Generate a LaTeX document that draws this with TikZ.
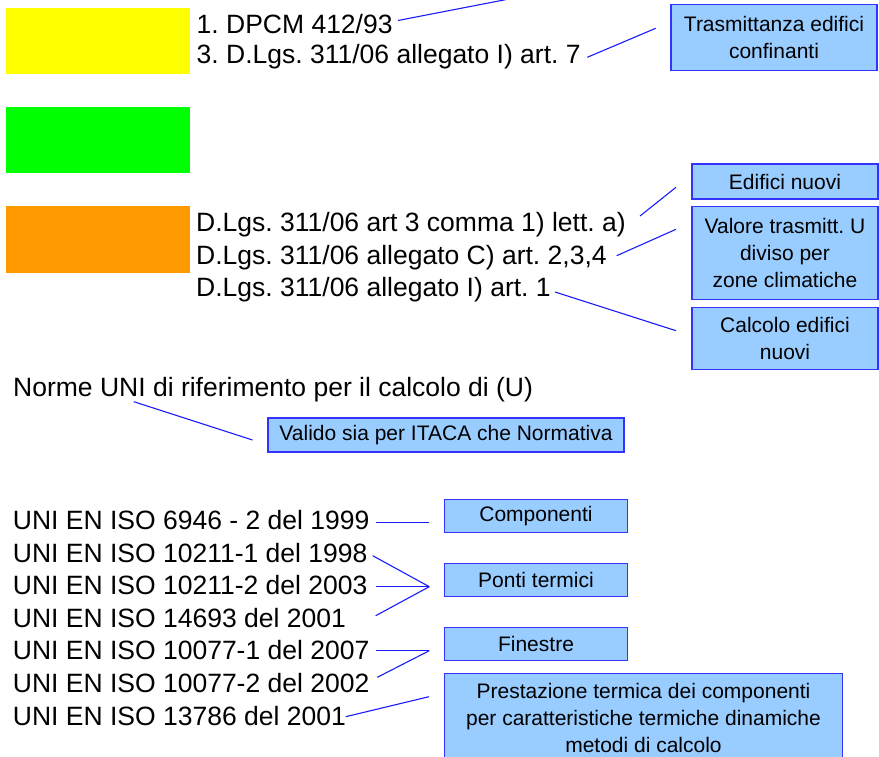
\documentclass[tikz,border=0pt]{standalone}
\usepackage{fontspec}
\setmainfont{Liberation Sans}
\frenchspacing
\definecolor{boxfill}{HTML}{99CCFF}
\definecolor{boxline}{HTML}{3333FF}
\definecolor{linkline}{HTML}{1A1AFF}
\definecolor{cyel}{HTML}{FFFF00}
\definecolor{cgrn}{HTML}{00FF00}
\definecolor{corg}{HTML}{FF9900}
\begin{document}
\frenchspacing
\begin{tikzpicture}[x=1pt,y=-1pt,
  txt/.style={inner sep=0pt,anchor=base west,font=\fontsize{26.5}{30}\selectfont\frenchspacing},
  note/.style={draw=boxline,line width=1.4pt,fill=boxfill,inner sep=0pt,align=center,
    font=\fontsize{21}{27}\selectfont\frenchspacing},
  link/.style={draw=linkline,line width=1.1pt},
  swatch/.style={inner sep=0pt,draw=none}]
\useasboundingbox (0,0) rectangle (879,757);
\begin{scope}
\clip (0,0) rectangle (879,757);
% colour swatches
\node[swatch,fill=cyel,minimum width=184pt,minimum height=66pt] (yel) at (98,41.5) {};
\node[swatch,fill=cgrn,minimum width=184pt,minimum height=66pt] (grn) at (98,140.5) {};
\node[swatch,fill=corg,minimum width=184pt,minimum height=66pt] (org) at (98,239.5) {};

% top texts
\node[txt] (dpcm) at (196.5,33.3) {1. DPCM 412/93};
\node[txt] (dlgs7) at (196.5,63.5) {3. D.Lgs. 311/06 allegato I) art. 7};
\node[note,minimum width=206pt,minimum height=66pt] (trasm) at (774,37.8) {Trasmittanza edifici\\confinanti};

% middle texts
\node[txt] (dlgsA) at (196,231.7) {D.Lgs. 311/06 art 3 comma 1) lett. a)};
\node[txt] (dlgsC) at (196,264) {D.Lgs. 311/06 allegato C) art. 2,3,4};
\node[txt] (dlgsI) at (196,296) {D.Lgs. 311/06 allegato I) art. 1};
\node[note,minimum width=186pt,minimum height=35pt] (edif) at (785,181.5) {Edifici nuovi};
\node[note,minimum width=186pt,minimum height=92.6pt] (valore) at (785,253) {Valore trasmitt. U\\diviso per\\zone climatiche};
\node[note,minimum width=186pt,minimum height=62pt] (calc) at (785,338.3) {Calcolo edifici\\nuovi};

% norme
\node[txt] (norme) at (13,396.7) {Norme UNI di riferimento per il calcolo di (U)};
\node[note,minimum width=356pt,minimum height=34pt] (valido) at (446,435) {Valido sia per ITACA che Normativa};

% UNI list
\node[txt] (u1) at (12.7,529.5) {UNI EN ISO 6946 - 2 del 1999};
\node[txt] (u2) at (12.7,562) {UNI EN ISO 10211-1 del 1998};
\node[txt] (u3) at (12.7,594.5) {UNI EN ISO 10211-2 del 2003};
\node[txt] (u4) at (12.7,627.5) {UNI EN ISO 14693 del 2001};
\node[txt] (u5) at (12.7,659.5) {UNI EN ISO 10077-1 del 2007};
\node[txt] (u6) at (12.7,692) {UNI EN ISO 10077-2 del 2002};
\node[txt] (u7) at (12.7,725) {UNI EN ISO 13786 del 2001};

\node[note,minimum width=183pt,minimum height=33.4pt] (comp) at (536,516) {Componenti};
\node[note,minimum width=183pt,minimum height=33.4pt] (ponti) at (536,580) {Ponti termici};
\node[note,minimum width=183pt,minimum height=33.4pt] (fin) at (536,644) {Finestre};
\node[note,minimum width=398pt,minimum height=90pt] (prest) at (643.5,718.3) {Prestazione termica dei componenti\\per caratteristiche termiche dinamiche\\metodi di calcolo};

% connector end points
\coordinate (offtop) at (509,-1);
\coordinate (dpcmE) at (398,20.5);
\coordinate (d7E) at (587.3,57.3);
\coordinate (trasmL) at (655.7,28.3);
\coordinate (dAE) at (640,216);
\coordinate (edifL) at (676,187.3);
\coordinate (dCE) at (616.7,255.7);
\coordinate (valL) at (676,229.3);
\coordinate (dIE) at (555,292);
\coordinate (calcL) at (676,330.7);
\coordinate (normeP) at (133.8,401.7);
\coordinate (validoL) at (252.5,440);
\coordinate (u1E) at (375.7,522.3);
\coordinate (compL) at (429.3,522.3);
\coordinate (u2E) at (372.7,555.7);
\coordinate (u3E) at (375.7,586.7);
\coordinate (u4E) at (375.7,615.7);
\coordinate (pontiL) at (429.3,586.7);
\coordinate (u5E) at (375.7,650.7);
\coordinate (u6E) at (377.3,677.3);
\coordinate (finL) at (429.3,650.7);
\coordinate (u7E) at (345.7,716.7);
\coordinate (prestL) at (429,696.7);

\draw[link] (dpcmE) -- (offtop);
\draw[link] (d7E) -- (trasmL);
\draw[link] (dAE) -- (edifL);
\draw[link] (dCE) -- (valL);
\draw[link] (dIE) -- (calcL);
\draw[link] (normeP) -- (validoL);
\draw[link] (u1E) -- (compL);
\draw[link] (u2E) -- (pontiL);
\draw[link] (u3E) -- (pontiL);
\draw[link] (u4E) -- (pontiL);
\draw[link] (u5E) -- (finL);
\draw[link] (u6E) -- (finL);
\draw[link] (u7E) -- (prestL);
\end{scope}
\end{tikzpicture}
\end{document}
